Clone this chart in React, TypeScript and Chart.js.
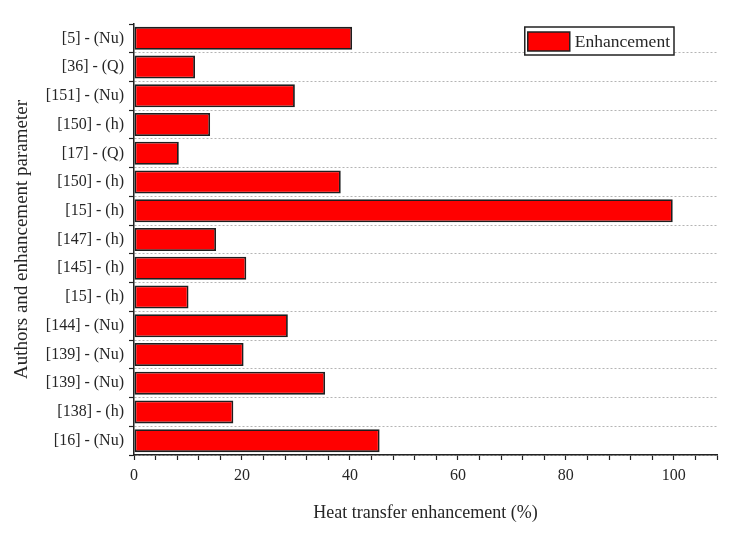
import React, { useEffect, useRef } from 'react';
import { Chart, registerables } from 'chart.js';

Chart.register(...registerables);

const categories = [
  '[5] - (Nu)',
  '[36] - (Q)',
  '[151] - (Nu)',
  '[150] - (h)',
  '[17] - (Q)',
  '[150] - (h)',
  '[15] - (h)',
  '[147] - (h)',
  '[145] - (h)',
  '[15] - (h)',
  '[144] - (Nu)',
  '[139] - (Nu)',
  '[139] - (Nu)',
  '[138] - (h)',
  '[16] - (Nu)',
];
const enhancement = [40.4, 11.3, 29.8, 14.1, 8.3, 38.3, 99.8, 15.2, 20.8, 10.1, 28.5, 20.3, 35.4, 18.4, 45.5];
const seriesLabel = 'Enhancement';
const xTitle = 'Heat transfer enhancement (%)';
const yTitle = 'Authors and enhancement parameter';
const xMin = 0;
const xMax = 108;
const xMinorStep = 4;
const xMajorStep = 20;

const FONT = '"Liberation Serif", "Times New Roman", serif';
const TEXT = '#262626';

const boxLegend = {
  id: 'boxLegend',
  afterDraw(chart: any) {
    const { ctx, chartArea } = chart;
    const ds = chart.data.datasets[0];
    ctx.save();
    ctx.font = `17.5px ${FONT}`;
    const tw = ctx.measureText(ds.label).width;
    const right = chartArea.right - 43;
    const top = chartArea.top + 3;
    const h = 28;
    const w = 3 + 42 + 5 + tw + 4;
    const left = right - w;
    ctx.fillStyle = '#fff';
    ctx.fillRect(left, top, w, h);
    ctx.lineWidth = 1.5;
    ctx.strokeStyle = '#222';
    ctx.strokeRect(left, top, w, h);
    ctx.fillStyle = ds.backgroundColor;
    ctx.fillRect(left + 3, top + 5, 42, 19);
    ctx.strokeRect(left + 3, top + 5, 42, 19);
    ctx.fillStyle = TEXT;
    ctx.textBaseline = 'middle';
    ctx.textAlign = 'left';
    ctx.fillText(ds.label, left + 50, top + h / 2 + 1);
    ctx.restore();
  },
};

export default function App() {
  const ref = useRef<HTMLCanvasElement | null>(null);

  useEffect(() => {
    if (!ref.current) return;
    const chart = new Chart(ref.current, {
      type: 'bar',
      data: {
        labels: categories,
        datasets: [
          {
            label: seriesLabel,
            data: enhancement,
            backgroundColor: '#ff0000',
            borderColor: '#1e1e1e',
            borderWidth: 1.8,
            borderSkipped: false,
            barPercentage: 0.8,
            categoryPercentage: 1.0,
          },
        ],
      },
      options: {
        indexAxis: 'y',
        animation: false,
        responsive: false,
        maintainAspectRatio: false,
        layout: { padding: { top: 24, right: 20, left: 0, bottom: 0 } },
        plugins: {
          legend: { display: false },
          tooltip: { enabled: false },
        },
        scales: {
          x: {
            type: 'linear',
            min: xMin,
            max: xMax,
            grid: {
              drawOnChartArea: false,
              tickColor: '#222',
              tickLength: 5,
              tickWidth: 1.2,
            },
            border: { color: '#222', width: 1.5 },
            ticks: {
              stepSize: xMinorStep,
              autoSkip: false,
              maxRotation: 0,
              color: TEXT,
              padding: 6,
              font: { family: FONT, size: 16 },
              callback: (v: any) => (Number(v) % xMajorStep === 0 ? String(v) : ''),
            },
            title: {
              display: true,
              text: xTitle,
              color: TEXT,
              font: { family: FONT, size: 18 },
              padding: { top: 0, bottom: 9 },
            },
            afterFit: (s: any) => {
              s.height = 78;
            },
          },
          y: {
            type: 'category',
            offset: true,
            grid: {
              offset: true,
              color: (c: any) => (c.index === 0 ? 'rgba(0,0,0,0)' : '#b4b4b4'),
              tickColor: '#222',
              tickLength: 5,
              tickWidth: 1.2,
              tickBorderDash: [],
            },
            border: { color: '#222', width: 1.5, dash: [2, 2] },
            ticks: {
              autoSkip: false,
              color: TEXT,
              padding: 5,
              font: { family: FONT, size: 16 },
            },
            title: {
              display: true,
              text: yTitle,
              color: TEXT,
              font: { family: FONT, size: 19 },
              padding: { top: 11, bottom: 0 },
            },
            afterFit: (s: any) => {
              s.width = 134;
            },
          },
        },
      },
      plugins: [boxLegend],
    });
    return () => chart.destroy();
  }, []);

  return (
    <div style={{ position: 'fixed', left: 0, top: 0, width: 737, height: 533, background: '#fff' }}>
      <canvas ref={ref} width={737} height={533} style={{ width: 737, height: 533, display: 'block' }} />
    </div>
  );
}
